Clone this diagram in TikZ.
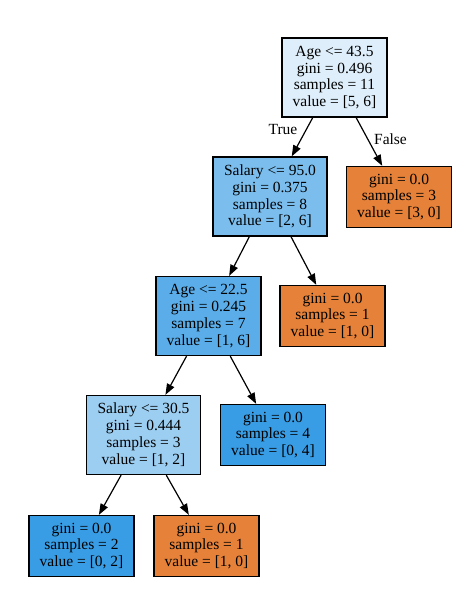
\documentclass[tikz,border=0pt]{standalone}
\usepackage{fontspec}
\setmainfont{Liberation Serif}
\usetikzlibrary{arrows.meta}
\definecolor{rootblue}{HTML}{DEEFFB}
\definecolor{midblue}{HTML}{7BBEEE}
\definecolor{deepblue}{HTML}{5AADE9}
\definecolor{paleblue}{HTML}{9CCEF2}
\definecolor{pureblue}{HTML}{399DE5}
\definecolor{pureorange}{HTML}{E58139}
\tikzset{
  box/.style={draw, line width=1.3pt, rectangle, align=center, inner sep=0pt,
    minimum width=105pt, font=\fontsize{15.5}{16.8}\selectfont},
  split/.style={box, minimum height=79pt},
  leaf/.style={box, minimum height=61pt},
  edge/.style={-{Triangle[length=11pt,width=8pt]}, line width=1.2pt}
}
\begin{document}
\begin{tikzpicture}[x=1pt,y=-1pt]
     \useasboundingbox (0,0) rectangle (475,599);
     % splits
     \node[split, fill=rootblue] (age43) at (334.5, 77.5)
      {Age <= 43.5\\gini = 0.496\\samples = 11\\value = [5, 6]};
     \node[split, fill=midblue, minimum width=114pt] (sal95) at (270.0,196.5)
      {Salary <= 95.0\\gini = 0.375\\samples = 8\\value = [2, 6]};
     \node[split, fill=deepblue] (age22) at (208.5,316.0)
      {Age <= 22.5\\gini = 0.245\\samples = 7\\value = [1, 6]};
     \node[split, fill=paleblue, minimum width=114pt] (sal30) at (143.5,435.0)
      {Salary <= 30.5\\gini = 0.444\\samples = 3\\value = [1, 2]};
     % leaves
     \node[leaf, fill=pureorange] (leafa) at (399.0,197.0)
      {gini = 0.0\\samples = 3\\value = [3, 0]};
     \node[leaf, fill=pureorange] (leafb) at (332.5,316.0)
      {gini = 0.0\\samples = 1\\value = [1, 0]};
     \node[leaf, fill=pureblue] (leafc) at (273.0,435.0)
      {gini = 0.0\\samples = 4\\value = [0, 4]};
     \node[leaf, fill=pureblue] (leafd) at ( 81.5,546.0)
      {gini = 0.0\\samples = 2\\value = [0, 2]};
     \node[leaf, fill=pureorange] (leafe) at (206.5,546.0)
      {gini = 0.0\\samples = 1\\value = [1, 0]};
     % edges
     \draw[edge] (age43) -- (sal95);
     \draw[edge] (age43) -- (leafa);
     \draw[edge] (sal95) -- (age22);
     \draw[edge] (sal95) -- (leafb);
     \draw[edge] (age22) -- (sal30);
     \draw[edge] (age22) -- (leafc);
     \draw[edge] (sal30) -- (leafd);
     \draw[edge] (sal30) -- (leafe);
     \node[font=\fontsize{15.5}{16.8}\selectfont] (true)  at (283.0,129.5) {True};
     \node[font=\fontsize{15.5}{16.8}\selectfont] (false) at (390.5,139.0) {False};
\end{tikzpicture}
\end{document}
